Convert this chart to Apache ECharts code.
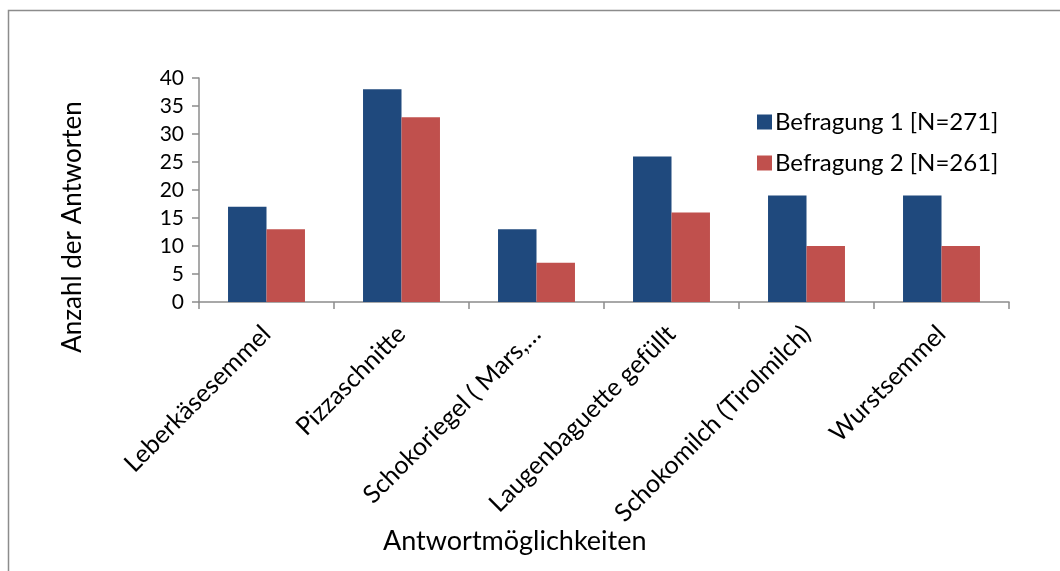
<!DOCTYPE html>
<html>
<head>
<meta charset="utf-8">
<script src="https://cdn.jsdelivr.net/npm/echarts@6/dist/echarts.min.js"></script>
<style>
  html, body { margin: 0; padding: 0; background: #fff; }
  #chart { width: 1060px; height: 571px; }
</style>
</head>
<body>
<div id="chart"></div>
<script>
// Snack survey: answers per option in two survey rounds
const categories = [
  'Leberkäsesemmel',
  'Pizzaschnitte',
  'Schokoriegel ( Mars,…',
  'Laugenbaguette gefüllt',
  'Schokomilch (Tirolmilch)',
  'Wurstsemmel'
];
const seriesNames = ['Befragung 1 [N=271]', 'Befragung 2 [N=261]'];
const survey1 = [17, 38, 13, 26, 19, 19];
const survey2 = [13, 33, 7, 16, 10, 10];
const yTicks = { min: 0, max: 40, interval: 5 };
const xTitle = 'Antwortmöglichkeiten';
const yTitle = 'Anzahl der Antworten';

const FONT = 'Lato';
const axisGray = '#8c8c8c';

const chart = echarts.init(document.getElementById('chart'), null, { renderer: 'canvas' });

chart.setOption({
  animation: false,
  backgroundColor: '#ffffff',
  textStyle: { fontFamily: FONT, color: '#000' },
  grid: { left: 199, top: 78, right: 51, bottom: 269, containLabel: false },
  graphic: [
    {
      // chart-area frame
      type: 'rect',
      shape: { x: 8.5, y: 10.5, width: 1100, height: 600 },
      style: { fill: 'none', stroke: axisGray, lineWidth: 1.5 },
      silent: true
    },
    {
      // category axis title
      type: 'text',
      left: 383,
      top: 528,
      style: { text: xTitle, font: '27px ' + FONT, fill: '#000' }
    },
    {
      // value axis title, rotated
      type: 'text',
      x: 73,
      y: 227,
      rotation: Math.PI / 2,
      style: {
        text: yTitle,
        font: '26px ' + FONT,
        fill: '#000',
        align: 'center',
        verticalAlign: 'middle'
      }
    }
  ],
  legend: {
    left: 752,
    top: 105,
    orient: 'vertical',
    itemWidth: 15,
    itemHeight: 15,
    itemGap: 17,
    icon: 'rect',
    textStyle: { fontFamily: FONT, fontSize: 24, color: '#000', padding: [0, 0, 0, -2] },
    data: seriesNames
  },
  xAxis: {
    type: 'category',
    data: categories,
    boundaryGap: true,
    axisLine: { lineStyle: { color: axisGray, width: 1.5 } },
    axisTick: { show: true, length: 7, alignWithLabel: false, lineStyle: { color: axisGray, width: 1.5 } },
    axisLabel: {
      interval: 0,
      rotate: 45,
      margin: 28,
      fontFamily: FONT,
      fontSize: 25,
      color: '#000'
    },
    splitLine: { show: false }
  },
  yAxis: {
    type: 'value',
    min: yTicks.min,
    max: yTicks.max,
    interval: yTicks.interval,
    axisLine: { show: true, lineStyle: { color: axisGray, width: 1.5 } },
    axisTick: { show: true, length: 7, lineStyle: { color: axisGray, width: 1.5 } },
    axisLabel: { margin: 15, fontFamily: FONT, fontSize: 21, color: '#000' },
    splitLine: { show: false }
  },
  series: [
    {
      name: seriesNames[0],
      type: 'bar',
      data: survey1,
      barGap: '0%',
      barCategoryGap: '43%',
      itemStyle: { color: '#1f497d' }
    },
    {
      name: seriesNames[1],
      type: 'bar',
      data: survey2,
      itemStyle: { color: '#c0504d' }
    }
  ]
});
</script>
</body>
</html>
